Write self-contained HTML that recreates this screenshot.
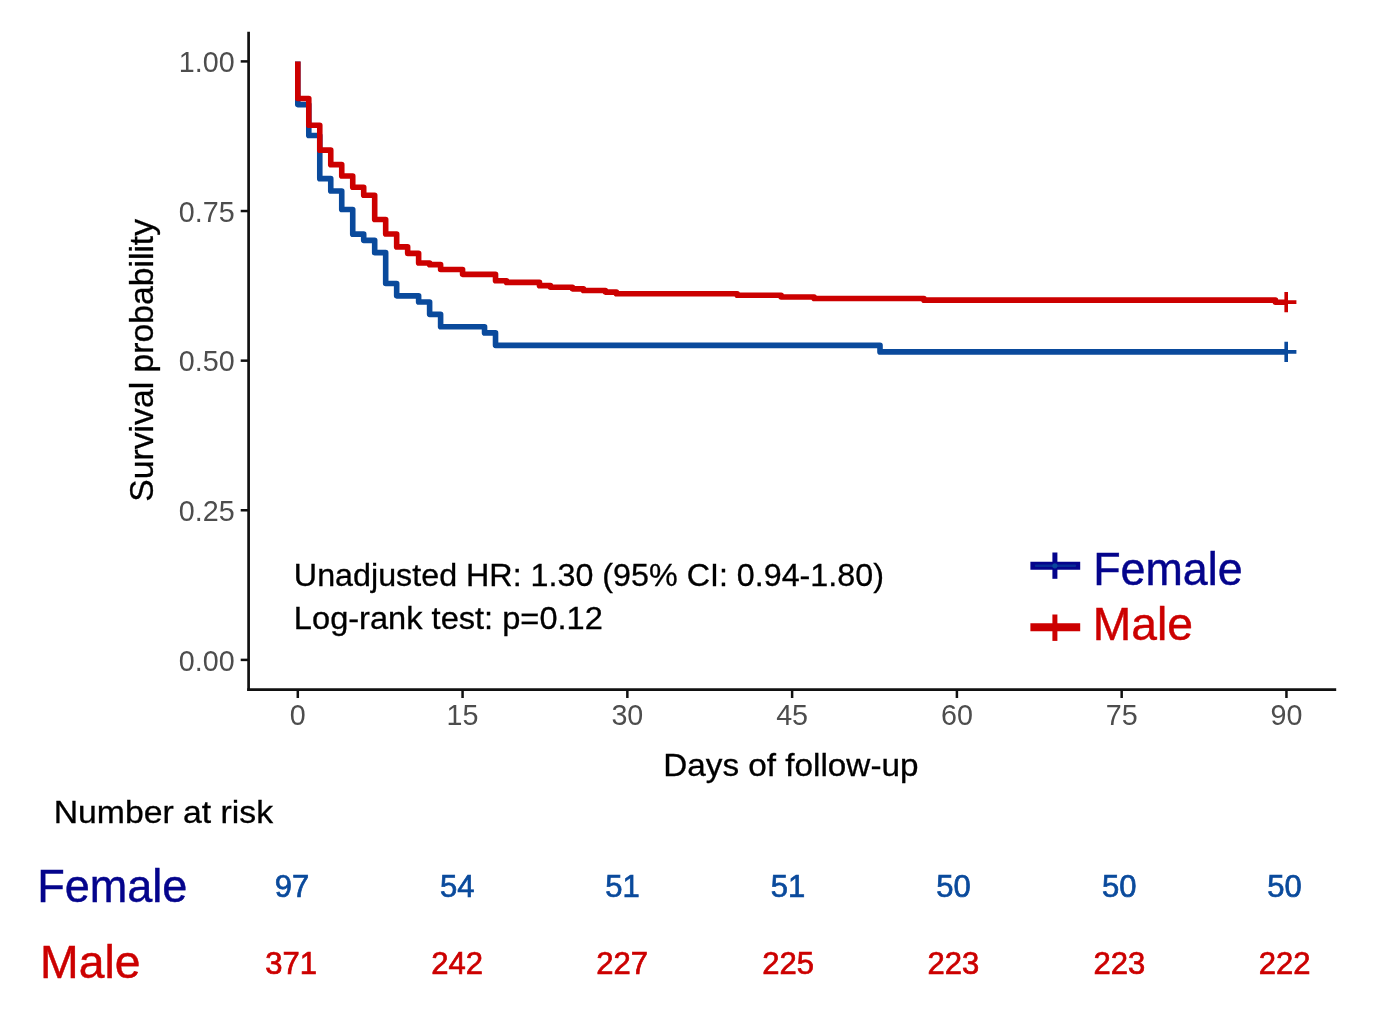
<!DOCTYPE html>
<html lang="en">
<head>
<meta charset="utf-8">
<title>Survival probability by sex</title>
<style>
html,body{margin:0;padding:0;background:#ffffff;}
body{width:1385px;height:1017px;overflow:hidden;font-family:"Liberation Sans",Arial,Helvetica,sans-serif;}
svg{display:block;position:absolute;left:0;top:0;}
text{white-space:pre;}
</style>
</head>
<body>
<svg width="1385" height="1017" viewBox="0 0 1385 1017">
<rect width="1385" height="1017" fill="#ffffff"/>
<g stroke="#111111" stroke-width="2.7" fill="none" stroke-linecap="butt">
<path d="M248.6,31.8V691.1"/>
<path d="M247.25,689.7H1336.2"/>
</g>
<g stroke="#111111" stroke-width="2.5" fill="none">
<path d="M240.7,659.9H248"/>
<path d="M240.7,510.27H248"/>
<path d="M240.7,360.65H248"/>
<path d="M240.7,211.03H248"/>
<path d="M240.7,61.4H248"/>
<path d="M297.8,690V698"/>
<path d="M462.57,690V698"/>
<path d="M627.35,690V698"/>
<path d="M792.12,690V698"/>
<path d="M956.9,690V698"/>
<path d="M1121.67,690V698"/>
<path d="M1286.45,690V698"/>
</g>
<g font-family="'Liberation Sans', Arial, Helvetica, sans-serif" font-size="28.7" fill="#4d4d4d">
<text x="234.6" y="670.7" text-anchor="end">0.00</text>
<text x="234.6" y="521.07" text-anchor="end">0.25</text>
<text x="234.6" y="371.45" text-anchor="end">0.50</text>
<text x="234.6" y="221.83" text-anchor="end">0.75</text>
<text x="234.6" y="72.2" text-anchor="end">1.00</text>
<text x="297.8" y="725.4" text-anchor="middle">0</text>
<text x="462.57" y="725.4" text-anchor="middle">15</text>
<text x="627.35" y="725.4" text-anchor="middle">30</text>
<text x="792.12" y="725.4" text-anchor="middle">45</text>
<text x="956.9" y="725.4" text-anchor="middle">60</text>
<text x="1121.67" y="725.4" text-anchor="middle">75</text>
<text x="1286.45" y="725.4" text-anchor="middle">90</text>
</g>
<g fill="none" stroke-width="5.6" stroke-linejoin="round" stroke-linecap="butt">
<path stroke="#0a4a9c" d="M297.8,61.4H297.8V104.59H308.79V135.44H319.77V178.63H330.75V190.97H341.74V209.48H352.73V234.16H363.71V240.33H374.69V252.67H385.68V283.52H396.67V295.86H418.63V302.03H429.62V314.37H440.61V326.71H484.55V332.88H495.53V345.35H880.0V351.89H1286.45"/>
<path stroke="#cc0000" d="M297.8,61.4H297.8V98.5H308.79V125.28H319.77V150.13H330.75V164.65H341.74V175.94H352.73V187.23H363.71V195.3H374.69V219.49H385.68V234.01H396.67V246.92H407.65V253.37H418.63V263.05H429.62V264.66H440.61V269.5H462.57V274.34H495.53V280.8H506.51V282.41H539.47V285.64H550.45V287.25H572.42V288.86H583.41V290.48H605.38V292.09H616.37V293.7H737.2V295.32H781.14V296.93H814.1V298.54H923.94V300.15H1275.46V302.25H1286.45"/>
</g>
<path stroke="#0a4a9c" stroke-width="3.6" fill="none" d="M1276.0,351.9H1296.4M1286.2,341.7V362.1"/>
<path stroke="#cc0000" stroke-width="3.6" fill="none" d="M1276.0,302.1H1296.4M1286.2,291.9V312.3"/>
<path stroke="#04048c" stroke-width="8" fill="none" d="M1030.4,565.8H1080.2"/>
<path stroke="#04048c" stroke-width="5" fill="none" d="M1054.9,552.5V578.8"/>
<path stroke="#0a4a9c" stroke-width="2.4" stroke-opacity="0.55" stroke-linecap="round" fill="none" d="M1036,565.8H1075"/>
<circle cx="1054.9" cy="565.8" r="2.6" fill="#0a4a9c" fill-opacity="0.9"/>
<path stroke="#cc0000" stroke-width="8" fill="none" d="M1030.4,627.3H1080.2"/>
<path stroke="#cc0000" stroke-width="5" fill="none" d="M1054.9,614.5V640.9"/>
<g font-family="'Liberation Sans', Arial, Helvetica, sans-serif" stroke-width="0.45">
<text x="1093.15" y="585.0" font-size="46" textLength="149.43" lengthAdjust="spacingAndGlyphs" fill="#04048c" stroke="#04048c">Female</text>
<text x="1092.77" y="639.5" font-size="46" textLength="100.17" lengthAdjust="spacingAndGlyphs" fill="#cc0000" stroke="#cc0000">Male</text>
<text x="37.13" y="902.0" font-size="46" textLength="150.24" lengthAdjust="spacingAndGlyphs" fill="#04048c" stroke="#04048c">Female</text>
<text x="40.12" y="978.4" font-size="46" textLength="100.46" lengthAdjust="spacingAndGlyphs" fill="#cc0000" stroke="#cc0000">Male</text>
</g>
<g font-family="'Liberation Sans', Arial, Helvetica, sans-serif" fill="#000000" stroke="#000000" stroke-width="0.3">
<text x="293.87" y="586.4" font-size="30.5" textLength="590.06" lengthAdjust="spacingAndGlyphs">Unadjusted HR: 1.30 (95% CI: 0.94-1.80)</text>
<text x="293.89" y="629.4" font-size="30.5" textLength="308.98" lengthAdjust="spacingAndGlyphs">Log-rank test: p=0.12</text>
<text x="663.28" y="776.1" font-size="30.5" textLength="255.23" lengthAdjust="spacingAndGlyphs">Days of follow-up</text>
<text x="53.7" y="823.4" font-size="30.5" textLength="219.36" lengthAdjust="spacingAndGlyphs">Number at risk</text>
<text transform="translate(152.8,360.3) rotate(-90)" text-anchor="middle" font-size="33.7">Survival probability</text>
</g>
<g font-family="'Liberation Sans', Arial, Helvetica, sans-serif" font-size="31" text-anchor="middle" stroke-width="0.7">
<text x="292" y="897.4" fill="#0a4a9c" stroke="#0a4a9c">97</text>
<text x="457.2" y="897.4" fill="#0a4a9c" stroke="#0a4a9c">54</text>
<text x="622.4" y="897.4" fill="#0a4a9c" stroke="#0a4a9c">51</text>
<text x="788" y="897.4" fill="#0a4a9c" stroke="#0a4a9c">51</text>
<text x="953.5" y="897.4" fill="#0a4a9c" stroke="#0a4a9c">50</text>
<text x="1119.3" y="897.4" fill="#0a4a9c" stroke="#0a4a9c">50</text>
<text x="1284.6" y="897.4" fill="#0a4a9c" stroke="#0a4a9c">50</text>
<text x="291.2" y="974.4" fill="#cc0000" stroke="#cc0000">371</text>
<text x="457.2" y="974.4" fill="#cc0000" stroke="#cc0000">242</text>
<text x="622.2" y="974.4" fill="#cc0000" stroke="#cc0000">227</text>
<text x="788.2" y="974.4" fill="#cc0000" stroke="#cc0000">225</text>
<text x="953.3" y="974.4" fill="#cc0000" stroke="#cc0000">223</text>
<text x="1119.3" y="974.4" fill="#cc0000" stroke="#cc0000">223</text>
<text x="1284.7" y="974.4" fill="#cc0000" stroke="#cc0000">222</text>
</g>
</svg>
</body>
</html>
